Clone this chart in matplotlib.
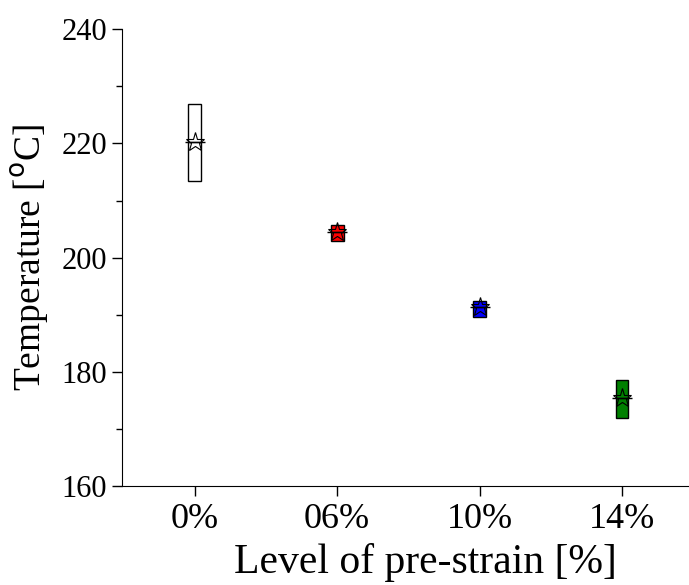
import matplotlib.pyplot as plt
from matplotlib.ticker import MultipleLocator

plt.rcParams['font.family'] = ['Liberation Serif', 'DejaVu Serif']

# data
labels = ["0%", "06%", "10%", "14%"]
q1 = [213.5, 202.9, 189.7, 171.9]
q3 = [226.9, 205.7, 192.5, 178.5]
medians = [220.2, 204.5, 191.3, 175.5]
means = [220.2, 204.5, 191.3, 175.5]
colors = ["white", "red", "blue", "green"]

fig = plt.figure(figsize=(6.89, 5.85), dpi=100)
ax = fig.add_axes([0.177, 0.169, 0.823, 0.781])

stats = []
for i in range(len(labels)):
    stats.append({"q1": q1[i], "q3": q3[i], "med": medians[i], "mean": means[i],
                  "whislo": q1[i], "whishi": q3[i], "label": labels[i]})

pos = list(range(len(labels)))
bp = ax.bxp(stats, positions=pos, widths=0.09, patch_artist=True,
            showmeans=True, showcaps=False, showfliers=False,
            medianprops=dict(color="black", linewidth=1),
            meanprops=dict(marker="*", markerfacecolor="none", markeredgecolor="black",
                           markersize=14, markeredgewidth=0.8),
            boxprops=dict(edgecolor="black", linewidth=1),
            whiskerprops=dict(linewidth=0))
for patch, c in zip(bp["boxes"], colors):
    patch.set_facecolor(c)

# median line sticks out a bit from the box
ax.hlines(medians, [p - 0.07 for p in pos], [p + 0.07 for p in pos], color="black", linewidth=1, zorder=3)

ax.set_xlim(-0.51, 3.47)
ax.set_ylim(160, 240)
ax.yaxis.set_major_locator(MultipleLocator(20))
ax.yaxis.set_minor_locator(MultipleLocator(10))
ax.set_xticks(pos)
ax.set_xticklabels(labels)
ax.spines["top"].set_visible(False)
ax.spines["right"].set_visible(False)
ax.tick_params(axis="both", which="major", direction="out", length=7, width=1)
ax.tick_params(axis="y", which="major", labelsize=22)
ax.tick_params(axis="x", which="major", labelsize=26, pad=5)
ax.tick_params(axis="y", which="minor", direction="out", length=4, width=1)

ax.set_xlabel("Level of pre-strain [%]", fontsize=30, labelpad=5)
ax.xaxis.label.set_x(0.535)
ax.set_ylabel("Temperature [$^\\mathrm{o}$C]", fontsize=27, labelpad=8)

fig.savefig("out.png", dpi=100)
